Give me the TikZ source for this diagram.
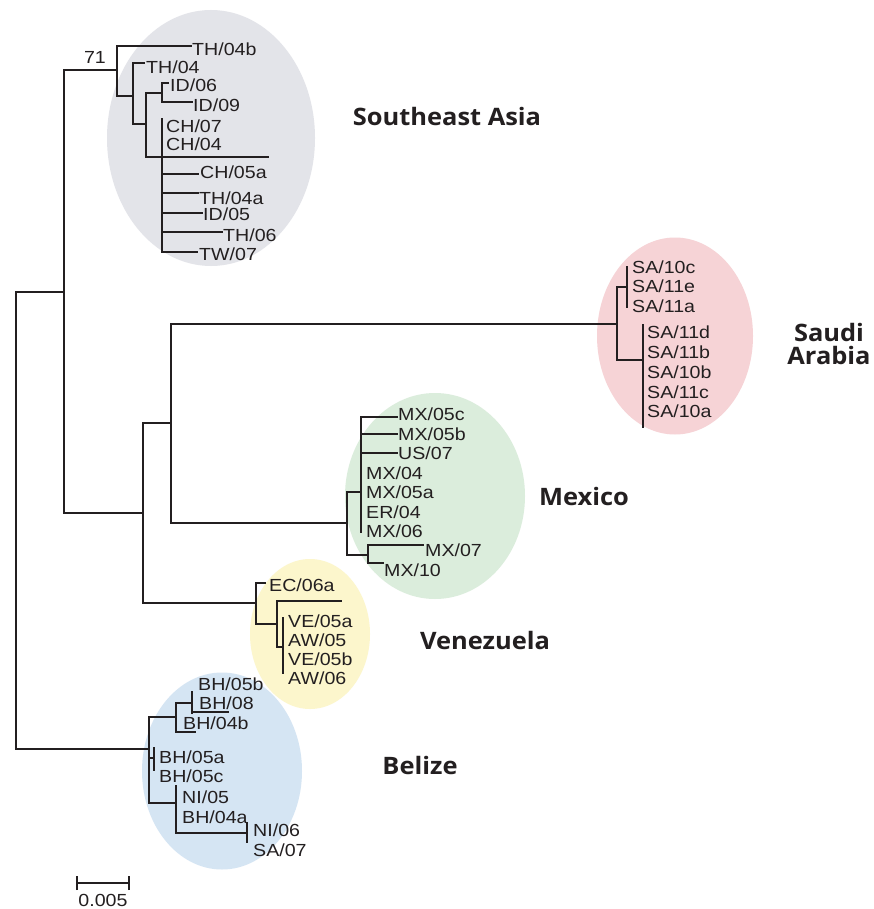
\documentclass[tikz,border=0pt]{standalone}
\usepackage{fontspec}
\setmainfont{Liberation Sans}[FakeStretch=1.12]
\newfontfamily\grpfont{Open Sans}[FakeStretch=1.06]
\usetikzlibrary{shapes.geometric}
\definecolor{seafill}{HTML}{E3E4E9}
\definecolor{safill}{HTML}{F6D3D6}
\definecolor{mxfill}{HTML}{DBEDDC}
\definecolor{vefill}{HTML}{FCF6CC}
\definecolor{bzfill}{HTML}{D5E5F3}
\definecolor{ink}{HTML}{231F20}
\begin{document}
\begin{tikzpicture}[x=1pt,y=-1pt,
  br/.style={draw=ink,line width=1.35pt,line cap=rect},
  thk/.style={draw=ink,line width=2.3pt,line cap=rect},
  leaf/.style={anchor=west,inner sep=0pt,text height=12.5pt,text depth=0pt,
    font=\fontsize{17.5}{20}\selectfont,text=ink},
  grp/.style={inner sep=0pt,text=ink,text height=17pt,text depth=0pt,
    font=\grpfont\bfseries\fontsize{24}{24}\selectfont},
  blob/.style={ellipse,draw=none,inner sep=0pt}]
\fill[white] (0,0) rectangle (874,909);
\useasboundingbox (0,0) rectangle (874,909);
% clade ellipses
\node[blob,fill=seafill,minimum width=208pt,minimum height=256pt] (seaE) at (211,138) {};
\node[blob,fill=safill,minimum width=156pt,minimum height=197pt] (saE) at (675,336) {};
\node[blob,fill=mxfill,minimum width=180pt,minimum height=206pt] (mxE) at (435,496) {};
\node[blob,fill=vefill,minimum width=120pt,minimum height=150pt] (veE) at (310,634) {};
\node[blob,fill=bzfill,minimum width=160pt,minimum height=197pt] (bzE) at (222,771) {};
% internal coordinates
\coordinate (rT) at (16,292); \coordinate (rB) at (16,749);
\coordinate (a) at (64,292); \coordinate (aT) at (64,70); \coordinate (aB) at (64,513);
\coordinate (sea) at (117,70); \coordinate (seaT) at (117,46); \coordinate (seaB) at (117,96);
\coordinate (sea2) at (133,96); \coordinate (sea2T) at (133,63); \coordinate (sea2B) at (133,124);
\coordinate (sea3) at (146,124); \coordinate (sea3T) at (146,93); \coordinate (sea3B) at (146,157);
\coordinate (id) at (162,93); \coordinate (idT) at (162,83); \coordinate (idB) at (162,102);
\coordinate (polyT) at (162,119); \coordinate (polyB) at (162,252);
\coordinate (b) at (143,513); \coordinate (bT) at (143,423); \coordinate (bB) at (143,603);
\coordinate (c) at (171,423); \coordinate (cT) at (171,324); \coordinate (cB) at (171,523);
\coordinate (sa) at (617,324); \coordinate (saT) at (617,287); \coordinate (saB) at (617,360);
\coordinate (sa1) at (627,287); \coordinate (sa1T) at (627,267); \coordinate (sa1B) at (627,307);
\coordinate (sa2) at (643,360); \coordinate (sa2T) at (643,325); \coordinate (sa2B) at (643,427);
\coordinate (mx) at (347,523); \coordinate (mxT) at (347,492); \coordinate (mxB) at (347,555);
\coordinate (mx1) at (361,492); \coordinate (mx1T) at (361,417); \coordinate (mx1B) at (361,532);
\coordinate (mx2) at (368,555); \coordinate (mx2T) at (368,545); \coordinate (mx2B) at (368,563);
\coordinate (ve) at (256,603); \coordinate (veT) at (256,583); \coordinate (veB) at (256,624);
\coordinate (ve1) at (277,624); \coordinate (ve1T) at (277,601); \coordinate (ve1B) at (277,647);
\coordinate (ve2) at (283,647); \coordinate (ve2T) at (283,618); \coordinate (ve2B) at (283,673);
\coordinate (bz) at (149,749); \coordinate (bzT) at (149,717); \coordinate (bzB) at (149,803);
\coordinate (bz1) at (176,717); \coordinate (bz1T) at (176,703); \coordinate (bz1B) at (176,732);
\coordinate (bz2) at (192,703); \coordinate (bz2T) at (192,692); \coordinate (bz2B) at (192,713);
\coordinate (bz3) at (154,758); \coordinate (bz3T) at (154,748); \coordinate (bz3B) at (154,770);
\coordinate (bz4) at (176,803); \coordinate (bz4T) at (176,786); \coordinate (bz4B) at (176,833);
\coordinate (bz5) at (247,833); \coordinate (bz5T) at (247,823); \coordinate (bz5B) at (247,842);
% leaf ends
\coordinate (eTHb) at (191,46); \coordinate (eTH) at (144,63);
\coordinate (eID6) at (168,83); \coordinate (eID9) at (192,102);
\coordinate (eLong) at (268,157);
\coordinate (eCH5) at (198,174); \coordinate (eTHa) at (198,193);
\coordinate (eID5) at (202,213); \coordinate (eTH6) at (222,232); \coordinate (eTW) at (197,252);
\coordinate (eM5c) at (397,417); \coordinate (eM5b) at (397,434); \coordinate (eUS) at (397,453);
\coordinate (eM7) at (423,545); \coordinate (eM10) at (383,563);
\coordinate (eEC) at (265,583); \coordinate (eVEl) at (341,601);
\coordinate (eBH8) at (228,712); \coordinate (eBH4b) at (195,732);
% backbone
\draw[br] (rT) -- (rB);
\draw[br] (rT) -- (a);
\draw[br] (aT) -- (aB);
\draw[br] (aT) -- (sea);
\draw[br] (seaT) -- (seaB);
\draw[br] (seaT) -- (eTHb);
\draw[br] (seaB) -- (sea2);
\draw[br] (sea2T) -- (sea2B);
\draw[br] (sea2T) -- (eTH);
\draw[br] (sea2B) -- (sea3);
\draw[br] (sea3T) -- (sea3B);
\draw[br] (sea3T) -- (id);
\draw[br] (idT) -- (idB);
\draw[br] (idT) -- (eID6);
\draw[br] (idB) -- (eID9);
\draw[br] (sea3B) -- (eLong);
\draw[br] (polyT) -- (polyB);
\draw[br] (polyT |- eCH5) -- (eCH5);
\draw[br] (polyT |- eTHa) -- (eTHa);
\draw[br] (polyT |- eID5) -- (eID5);
\draw[br] (polyT |- eTH6) -- (eTH6);
\draw[br] (polyB) -- (eTW);
\draw[br] (aB) -- (b);
\draw[br] (bT) -- (bB);
\draw[thk] (bT) -- (c);
\draw[thk] (cT) -- (cB);
\draw[thk] (cT) -- (sa);
\draw[br] (saT) -- (saB);
\draw[br] (saT) -- (sa1);
\draw[br] (sa1T) -- (sa1B);
\draw[br] (saB) -- (sa2);
\draw[br] (sa2T) -- (sa2B);
\draw[thk] (cB) -- (mx);
\draw[br] (mxT) -- (mxB);
\draw[br] (mxT) -- (mx1);
\draw[br] (mx1T) -- (mx1B);
\draw[br] (mx1T) -- (eM5c);
\draw[br] (mx1T |- eM5b) -- (eM5b);
\draw[br] (mx1T |- eUS) -- (eUS);
\draw[br] (mxB) -- (mx2);
\draw[br] (mx2T) -- (mx2B);
\draw[thk] (mx2T) -- (eM7);
\draw[br] (mx2B) -- (eM10);
\draw[br] (bB) -- (ve);
\draw[br] (veT) -- (veB);
\draw[br] (veT) -- (eEC);
\draw[br] (veB) -- (ve1);
\draw[br] (ve1T) -- (ve1B);
\draw[br] (ve1T) -- (eVEl);
\draw[br] (ve1B) -- (ve2);
\draw[br] (ve2T) -- (ve2B);
\draw[br] (rB) -- (bz);
\draw[br] (bzT) -- (bzB);
\draw[thk] (bzT) -- (bz1);
\draw[br] (bz1T) -- (bz1B);
\draw[br] (bz1B) -- (eBH4b);
\draw[thk] (bz1T) -- (bz2);
\draw[br] (bz2T) -- (bz2B);
\draw[br] (bz2T |- eBH8) -- (eBH8);
\draw[thk] (bzT |- bz3) -- (bz3);
\draw[thk] (bz3T) -- (bz3B);
\draw[br] (bzB) -- (bz4);
\draw[br] (bz4T) -- (bz4B);
\draw[br] (bz4B) -- (bz5);
\draw[br] (bz5T) -- (bz5B);
% leaf labels
\node[leaf] (lTHb) at (192,49) {TH/04b};
\node[leaf] (lTH) at (146,67) {TH/04};
\node[leaf] (lID6) at (170,85) {ID/06};
\node[leaf] (lID9) at (193,105) {ID/09};
\node[leaf] (lCH7) at (166,126) {CH/07};
\node[leaf] (lCH4) at (166,144) {CH/04};
\node[leaf] (lCH5) at (200,172) {CH/05a};
\node[leaf] (lTHa) at (199,198) {TH/04a};
\node[leaf] (lID5) at (203,214) {ID/05};
\node[leaf] (lTH6) at (223,235) {TH/06};
\node[leaf] (lTW) at (199,254) {TW/07};
\node[leaf,anchor=center] (l71) at (95,57) {71};
\node[leaf] (lS10c) at (632,267) {SA/10c};
\node[leaf] (lS11e) at (632,286) {SA/11e};
\node[leaf] (lS11a) at (632,306) {SA/11a};
\node[leaf] (lS11d) at (647,332) {SA/11d};
\node[leaf] (lS11b) at (647,352) {SA/11b};
\node[leaf] (lS10b) at (647,372) {SA/10b};
\node[leaf] (lS11c) at (647,392) {SA/11c};
\node[leaf] (lS10a) at (647,411) {SA/10a};
\node[leaf] (lM5c) at (398,414) {MX/05c};
\node[leaf] (lM5b) at (398,434) {MX/05b};
\node[leaf] (lUS) at (398,453) {US/07};
\node[leaf] (lM4) at (366,473) {MX/04};
\node[leaf] (lM5a) at (366,492) {MX/05a};
\node[leaf] (lER) at (366,512) {ER/04};
\node[leaf] (lM6) at (366,531) {MX/06};
\node[leaf] (lM7) at (425,550) {MX/07};
\node[leaf] (lM10) at (384,570) {MX/10};
\node[leaf] (lEC) at (269,585) {EC/06a};
\node[leaf] (lVEa) at (288,621) {VE/05a};
\node[leaf] (lAW5) at (288,640) {AW/05};
\node[leaf] (lVEb) at (288,659) {VE/05b};
\node[leaf] (lAW6) at (288,678) {AW/06};
\node[leaf] (lBH5b) at (198,684) {BH/05b};
\node[leaf] (lBH8) at (199,703) {BH/08};
\node[leaf] (lBH4b) at (183,723) {BH/04b};
\node[leaf] (lBH5a) at (159,757) {BH/05a};
\node[leaf] (lBH5c) at (159,776) {BH/05c};
\node[leaf] (lNI5) at (182,797) {NI/05};
\node[leaf] (lBH4a) at (182,817) {BH/04a};
\node[leaf] (lNI6) at (253,830) {NI/06};
\node[leaf] (lSA7) at (253,850) {SA/07};
% group labels
\node[grp] (gSEA) at (447,117) {Southeast Asia};
\node[grp] (gSA1) at (829,333) {Saudi};
\node[grp] (gSA2) at (829,356) {Arabia};
\node[grp] (gMX) at (584,497) {Mexico};
\node[grp] (gVE) at (485,641) {Venezuela};
\node[grp] (gBZ) at (420,766) {Belize};
% scale bar
\coordinate (sbL) at (77,883); \coordinate (sbR) at (129,883);
\draw[br,line cap=butt] (sbL) -- (sbR);
\draw[br,line cap=butt] ([yshift=-7pt]sbL) -- ([yshift=7pt]sbL);
\draw[br,line cap=butt] ([yshift=-7pt]sbR) -- ([yshift=7pt]sbR);
\node[leaf,anchor=center] (sbLab) at (103,900) {0.005};
\end{tikzpicture}
\end{document}
